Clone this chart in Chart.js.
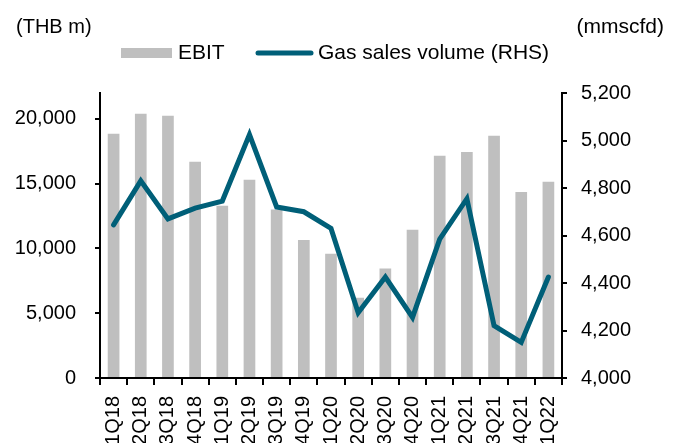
<!DOCTYPE html>
<html>
<head>
<meta charset="utf-8">
<script src="https://cdn.jsdelivr.net/npm/chart.js@4.4.0/dist/chart.umd.min.js"></script>
<style>
  html, body { margin: 0; padding: 0; background: #fff; }
  #wrap { width: 681px; height: 443px; }
</style>
</head>
<body>
<div id="wrap"><canvas id="chart" width="681" height="443"></canvas></div>
<script>
// quarters on the x axis
const quarters = ['1Q18', '2Q18', '3Q18', '4Q18', '1Q19', '2Q19', '3Q19', '4Q19',
  '1Q20', '2Q20', '3Q20', '4Q20', '1Q21', '2Q21', '3Q21', '4Q21', '1Q22'];
// EBIT, THB m (left axis)
const ebit = [18850, 20400, 20250, 16700, 13300, 15300, 13000, 10650,
  9600, 6200, 8450, 11450, 17150, 17450, 18700, 14350, 15150];
// gas sales volume, mmscfd (right axis)
const gasVolume = [4645, 4830, 4670, 4715, 4745, 5025, 4720, 4700,
  4630, 4275, 4425, 4255, 4585, 4755, 4220, 4150, 4425];

// tick values
const leftTicks = [0, 5000, 10000, 15000, 20000];
const rightTicks = [4000, 4200, 4400, 4600, 4800, 5000, 5200];

const leftTitle = '(THB m)';
const rightTitle = '(mmscfd)';

const FONT = "'Liberation Sans', Arial, sans-serif";
const barColor = '#bfbfbf';
const lineColor = '#005f78';

// header: axis unit labels and the legend row
const headerPlugin = {
  id: 'header',
  afterDraw(chart) {
    const ctx = chart.ctx;
    ctx.save();
    ctx.fillStyle = '#000';
    ctx.font = '20px ' + FONT;
    ctx.textBaseline = 'middle';
    ctx.textAlign = 'left';
    ctx.fillText(leftTitle, 16, 27);
    ctx.font = '21px ' + FONT;
    ctx.textAlign = 'right';
    ctx.fillText(rightTitle, 664, 27);

    // legend
    ctx.font = '21px ' + FONT;
    ctx.textAlign = 'left';
    ctx.fillStyle = barColor;
    ctx.fillRect(121, 48, 51, 10);
    ctx.fillStyle = '#000';
    ctx.fillText(chart.data.datasets[1].label, 178, 53);
    ctx.strokeStyle = lineColor;
    ctx.lineWidth = 5;
    ctx.lineCap = 'round';
    ctx.beginPath();
    ctx.moveTo(258, 53);
    ctx.lineTo(311, 53);
    ctx.stroke();
    ctx.fillText(chart.data.datasets[0].label, 318, 53);
    ctx.restore();
  }
};

const ctx = document.getElementById('chart').getContext('2d');
const myChart = new Chart(ctx, {
  type: 'bar',
  data: {
    labels: quarters,
    datasets: [
      {
        type: 'line',
        label: 'Gas sales volume (RHS)',
        data: gasVolume,
        yAxisID: 'y1',
        borderColor: lineColor,
        borderWidth: 5,
        borderCapStyle: 'round',
        pointRadius: 0,
        tension: 0,
        order: 0,
      },
      {
        label: 'EBIT',
        data: ebit,
        yAxisID: 'y',
        backgroundColor: barColor,
        barPercentage: 0.43,
        categoryPercentage: 1,
        order: 1,
      },
    ],
  },
  options: {
    responsive: false,
    animation: false,
    devicePixelRatio: 1,
    layout: { padding: { top: 93, left: 0, right: 0, bottom: 0 } },
    plugins: {
      legend: { display: false },
      tooltip: { enabled: false },
    },
    scales: {
      x: {
        afterFit: (scale) => { scale.height = 65; },
        border: { display: true, color: '#000', width: 2 },
        grid: {
          offset: true,
          drawOnChartArea: false,
          tickLength: 7,
          color: '#000',
          lineWidth: 2,
        },
        ticks: {
          color: '#000',
          font: { family: FONT, size: 20 },
          minRotation: 90,
          maxRotation: 90,
          padding: 11,
          autoSkip: false,
        },
      },
      y: {
        position: 'left',
        min: 0,
        max: 22000,
        afterFit: (scale) => { scale.width = 100; },
        afterBuildTicks: (scale) => { scale.ticks = leftTicks.map((v) => ({ value: v })); },
        border: { display: true, color: '#000', width: 2 },
        grid: {
          drawOnChartArea: false,
          tickLength: 5,
          color: '#000',
          lineWidth: 2,
        },
        ticks: {
          color: '#000',
          font: { family: FONT, size: 20 },
          padding: 19,
          callback: (v) => v.toLocaleString('en-US'),
        },
      },
      y1: {
        position: 'right',
        min: 4000,
        max: 5200,
        afterFit: (scale) => { scale.width = 119; },
        afterBuildTicks: (scale) => { scale.ticks = rightTicks.map((v) => ({ value: v })); },
        border: { display: true, color: '#000', width: 2 },
        grid: {
          drawOnChartArea: false,
          tickLength: 5,
          color: '#000',
          lineWidth: 2,
        },
        ticks: {
          color: '#000',
          font: { family: FONT, size: 20 },
          padding: 14,
          callback: (v) => v.toLocaleString('en-US'),
        },
      },
    },
  },
  plugins: [headerPlugin],
});
</script>
</body>
</html>
